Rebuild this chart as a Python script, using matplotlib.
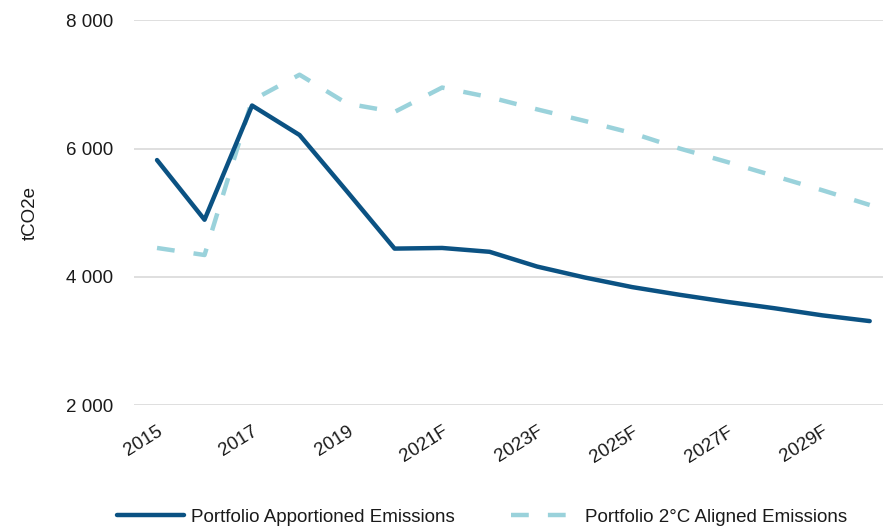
import matplotlib.pyplot as plt
from matplotlib.ticker import FuncFormatter

plt.rcParams['font.family'] = ['Liberation Sans', 'DejaVu Sans']

years = ['2015', '2016', '2017', '2018', '2019', '2020', '2021F', '2022F',
         '2023F', '2024F', '2025F', '2026F', '2027F', '2028F', '2029F', '2030F']
apportioned = [5820, 4890, 6670, 6210, 5330, 4440, 4450, 4390,
               4160, 3990, 3840, 3720, 3610, 3510, 3400, 3310]
aligned_2c = [4450, 4340, 6750, 7150, 6700, 6570, 6950, 6800,
              6610, 6430, 6240, 6000, 5790, 5570, 5350, 5120]

dark_blue = '#0b5283'
light_teal = '#9ad2db'
fs = 13.5

fig = plt.figure(figsize=(8.83, 5.31), dpi=100)
ax = fig.add_axes([0.152, 0.237, 0.848, 0.725])

x = list(range(len(years)))
ax.plot(x, apportioned, color=dark_blue, lw=3.2, solid_capstyle='round',
        label='Portfolio Apportioned Emissions', zorder=3)
ax.plot(x, aligned_2c, color=light_teal, lw=3.2, dashes=(4.0, 4.3),
        label='Portfolio 2°C Aligned Emissions', zorder=2)

ax.set_ylim(2000, 8000)
ax.set_xlim(-0.48, 15.28)
ax.set_yticks([2000, 4000, 6000, 8000])
ax.yaxis.set_major_formatter(FuncFormatter(lambda v, p: f'{v:,.0f}'.replace(',', ' ')))
ax.grid(axis='y', color='#d9d9d9', lw=1.2)
ax.set_axisbelow(True)
for s in ax.spines.values():
    s.set_visible(False)

ax.set_xticks(x[::2])
ax.set_xticklabels(years[::2], rotation=32, ha='right', rotation_mode='anchor')
ax.tick_params(axis='both', length=0, labelsize=fs, colors='#1a1a1a')
ax.tick_params(axis='y', pad=15)
ax.tick_params(axis='x', pad=13)
ax.set_ylabel('tCO2e', fontsize=fs, color='#1a1a1a', labelpad=20)

fig.legend(loc='center', bbox_to_anchor=(482 / 883, 1 - 517 / 531), ncol=2,
           frameon=False, fontsize=fs, handlelength=3.6, handletextpad=0.35,
           columnspacing=3.0, labelcolor='#1a1a1a')

fig.savefig('out.png', dpi=100)
